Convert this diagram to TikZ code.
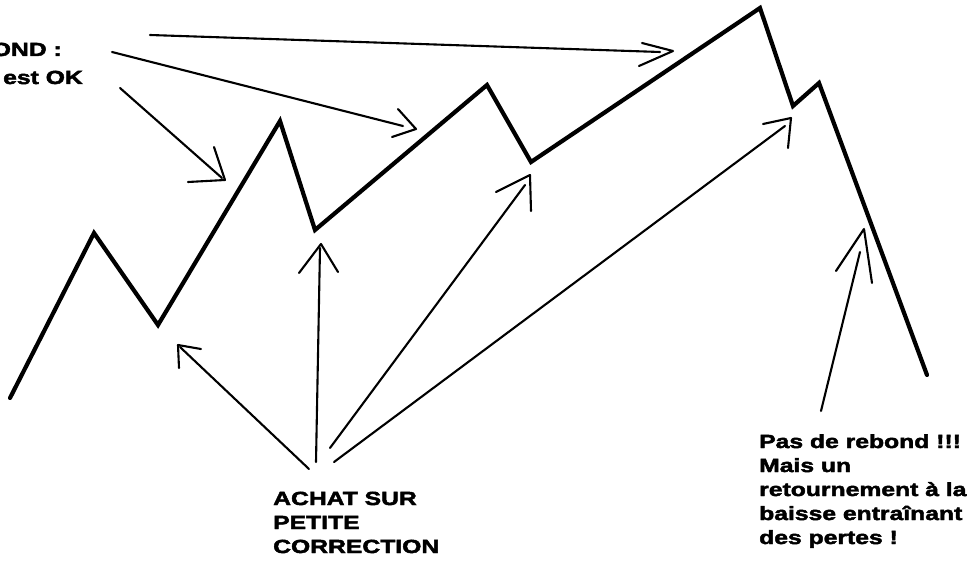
\documentclass[tikz,border=0pt]{standalone}
\usepackage{fontspec}
\newfontfamily\lbl{Liberation Sans Bold}[FakeStretch=1.3,FakeBold=2.5]
\tikzset{
  zig/.style={line width=4.2pt,line cap=round,line join=miter,black},
  arr/.style={line width=2.1pt,line cap=round,line join=round,black},
  txt/.style={font=\lbl\fontsize{19}{24}\selectfont,align=left,inner sep=0pt,anchor=base west},
}
\begin{document}
\begin{tikzpicture}[x=1pt,y=-1pt]
\useasboundingbox (0,0) rectangle (978,567);
% price zigzag
\draw[zig] (10,398) -- (94,233) -- (158,325) -- (280,121) -- (315,230) -- (487,85)
  -- (531,162) -- (760,8) -- (793,106) -- (819,83) -- (927,375);
% arrows from top-left text
\coordinate (a1) at (673,51);
\draw[arr] (150,35) -- (660,52);
\draw[arr] (642,43) -- (a1) -- (639,66);
\coordinate (a2) at (416,129);
\draw[arr] (112,52) -- (403,126);
\draw[arr] (398,109) -- (a2) -- (392,137);
\coordinate (a3) at (225,180);
\draw[arr] (120,88) -- (222,178);
\draw[arr] (214,147) -- (a3) -- (188,182);
% arrows from bottom text
\coordinate (b1) at (178,345);
\draw[arr] (309,469) -- (180,347);
\draw[arr] (201,349) -- (b1) -- (179,368);
\coordinate (b2) at (321,244);
\draw[arr] (316,462) -- (320,248);
\draw[arr] (299,273) -- (b2) -- (338,272);
\coordinate (b3) at (530,175);
\draw[arr] (330,448) -- (525,185);
\draw[arr] (496,192) -- (b3) -- (531,211);
\coordinate (b4) at (791,118);
\draw[arr] (334,462) -- (785,126);
\draw[arr] (763,124) -- (b4) -- (788,148);
% arrow from right text
\coordinate (r1) at (864,229);
\draw[arr] (821,411) -- (860,252);
\draw[arr] (836,271) -- (r1) -- (872,283);
% texts
\node[txt,anchor=base east] (t1) at (62,56) {OND :};
\node[txt,anchor=base east] (t2) at (83,84) {est OK};
\node[txt] (t3) at (273,553) {ACHAT SUR\\PETITE\\CORRECTION};
\node[txt] (t4) at (759,544) {Pas de rebond !!!\\Mais un\\retournement à la\\baisse entraînant\\des pertes !};
\end{tikzpicture}
\end{document}
